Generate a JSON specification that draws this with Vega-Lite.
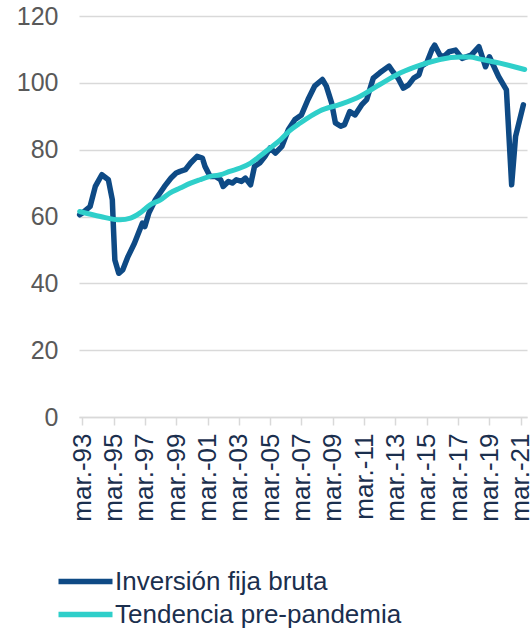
{
  "$schema": "https://vega.github.io/schema/vega-lite/v6.json",
  "width": 448,
  "height": 401,
  "autosize": {"type": "none"},
  "padding": {"left": 79, "top": 16, "right": 5, "bottom": 212},
  "background": "white",
  "config": {
    "view": {"stroke": null},
    "font": "Liberation Sans"
  },
  "datasets": {
    "ifb": [
      {"fecha": "1993-01-01", "serie": "Inversión fija bruta", "valor": 60.5},
      {"fecha": "1993-03-01", "serie": "Inversión fija bruta", "valor": 61},
      {"fecha": "1993-09-01", "serie": "Inversión fija bruta", "valor": 63},
      {"fecha": "1994-01-01", "serie": "Inversión fija bruta", "valor": 69},
      {"fecha": "1994-06-01", "serie": "Inversión fija bruta", "valor": 72.5},
      {"fecha": "1994-11-01", "serie": "Inversión fija bruta", "valor": 71},
      {"fecha": "1995-02-01", "serie": "Inversión fija bruta", "valor": 65},
      {"fecha": "1995-03-01", "serie": "Inversión fija bruta", "valor": 56},
      {"fecha": "1995-04-01", "serie": "Inversión fija bruta", "valor": 47},
      {"fecha": "1995-07-01", "serie": "Inversión fija bruta", "valor": 43},
      {"fecha": "1995-10-01", "serie": "Inversión fija bruta", "valor": 44},
      {"fecha": "1996-02-01", "serie": "Inversión fija bruta", "valor": 48},
      {"fecha": "1996-07-01", "serie": "Inversión fija bruta", "valor": 52},
      {"fecha": "1997-01-01", "serie": "Inversión fija bruta", "valor": 58},
      {"fecha": "1997-03-01", "serie": "Inversión fija bruta", "valor": 57},
      {"fecha": "1997-06-01", "serie": "Inversión fija bruta", "valor": 61},
      {"fecha": "1997-11-01", "serie": "Inversión fija bruta", "valor": 65},
      {"fecha": "1998-06-01", "serie": "Inversión fija bruta", "valor": 69},
      {"fecha": "1998-11-01", "serie": "Inversión fija bruta", "valor": 71.5},
      {"fecha": "1999-03-01", "serie": "Inversión fija bruta", "valor": 73},
      {"fecha": "1999-06-01", "serie": "Inversión fija bruta", "valor": 73.5},
      {"fecha": "1999-10-01", "serie": "Inversión fija bruta", "valor": 74},
      {"fecha": "2000-02-01", "serie": "Inversión fija bruta", "valor": 76},
      {"fecha": "2000-07-01", "serie": "Inversión fija bruta", "valor": 78},
      {"fecha": "2000-11-01", "serie": "Inversión fija bruta", "valor": 77.5},
      {"fecha": "2001-01-01", "serie": "Inversión fija bruta", "valor": 75},
      {"fecha": "2001-05-01", "serie": "Inversión fija bruta", "valor": 72},
      {"fecha": "2001-09-01", "serie": "Inversión fija bruta", "valor": 72},
      {"fecha": "2002-01-01", "serie": "Inversión fija bruta", "valor": 71},
      {"fecha": "2002-03-01", "serie": "Inversión fija bruta", "valor": 69},
      {"fecha": "2002-07-01", "serie": "Inversión fija bruta", "valor": 70.5},
      {"fecha": "2002-10-01", "serie": "Inversión fija bruta", "valor": 70},
      {"fecha": "2003-01-01", "serie": "Inversión fija bruta", "valor": 71},
      {"fecha": "2003-05-01", "serie": "Inversión fija bruta", "valor": 70.5},
      {"fecha": "2003-08-01", "serie": "Inversión fija bruta", "valor": 71.5},
      {"fecha": "2003-12-01", "serie": "Inversión fija bruta", "valor": 69.5},
      {"fecha": "2004-03-01", "serie": "Inversión fija bruta", "valor": 75},
      {"fecha": "2004-07-01", "serie": "Inversión fija bruta", "valor": 76},
      {"fecha": "2004-11-01", "serie": "Inversión fija bruta", "valor": 78},
      {"fecha": "2005-03-01", "serie": "Inversión fija bruta", "valor": 80.5},
      {"fecha": "2005-07-01", "serie": "Inversión fija bruta", "valor": 79},
      {"fecha": "2005-12-01", "serie": "Inversión fija bruta", "valor": 81},
      {"fecha": "2006-05-01", "serie": "Inversión fija bruta", "valor": 86},
      {"fecha": "2006-10-01", "serie": "Inversión fija bruta", "valor": 89},
      {"fecha": "2007-03-01", "serie": "Inversión fija bruta", "valor": 90.4},
      {"fecha": "2007-08-01", "serie": "Inversión fija bruta", "valor": 95},
      {"fecha": "2008-01-01", "serie": "Inversión fija bruta", "valor": 99},
      {"fecha": "2008-07-01", "serie": "Inversión fija bruta", "valor": 101},
      {"fecha": "2008-10-01", "serie": "Inversión fija bruta", "valor": 99},
      {"fecha": "2009-02-01", "serie": "Inversión fija bruta", "valor": 94},
      {"fecha": "2009-05-01", "serie": "Inversión fija bruta", "valor": 88},
      {"fecha": "2009-09-01", "serie": "Inversión fija bruta", "valor": 87},
      {"fecha": "2009-12-01", "serie": "Inversión fija bruta", "valor": 87.5},
      {"fecha": "2010-04-01", "serie": "Inversión fija bruta", "valor": 91.4},
      {"fecha": "2010-08-01", "serie": "Inversión fija bruta", "valor": 90.4},
      {"fecha": "2011-01-01", "serie": "Inversión fija bruta", "valor": 93.4},
      {"fecha": "2011-05-01", "serie": "Inversión fija bruta", "valor": 95},
      {"fecha": "2011-10-01", "serie": "Inversión fija bruta", "valor": 101.4},
      {"fecha": "2012-03-01", "serie": "Inversión fija bruta", "valor": 103},
      {"fecha": "2012-10-01", "serie": "Inversión fija bruta", "valor": 105},
      {"fecha": "2013-01-01", "serie": "Inversión fija bruta", "valor": 103.3},
      {"fecha": "2013-05-01", "serie": "Inversión fija bruta", "valor": 101.4},
      {"fecha": "2013-09-01", "serie": "Inversión fija bruta", "valor": 98.4},
      {"fecha": "2014-01-01", "serie": "Inversión fija bruta", "valor": 99.4},
      {"fecha": "2014-05-01", "serie": "Inversión fija bruta", "valor": 101.4},
      {"fecha": "2014-09-01", "serie": "Inversión fija bruta", "valor": 102.4},
      {"fecha": "2014-11-01", "serie": "Inversión fija bruta", "valor": 105},
      {"fecha": "2015-03-01", "serie": "Inversión fija bruta", "valor": 106},
      {"fecha": "2015-07-01", "serie": "Inversión fija bruta", "valor": 110},
      {"fecha": "2015-09-01", "serie": "Inversión fija bruta", "valor": 111.3},
      {"fecha": "2016-01-01", "serie": "Inversión fija bruta", "valor": 108.3},
      {"fecha": "2016-04-01", "serie": "Inversión fija bruta", "valor": 107.8},
      {"fecha": "2016-08-01", "serie": "Inversión fija bruta", "valor": 109.3},
      {"fecha": "2017-01-01", "serie": "Inversión fija bruta", "valor": 109.8},
      {"fecha": "2017-06-01", "serie": "Inversión fija bruta", "valor": 107.3},
      {"fecha": "2018-01-01", "serie": "Inversión fija bruta", "valor": 108.3},
      {"fecha": "2018-07-01", "serie": "Inversión fija bruta", "valor": 110.8},
      {"fecha": "2018-12-01", "serie": "Inversión fija bruta", "valor": 104.8},
      {"fecha": "2019-03-01", "serie": "Inversión fija bruta", "valor": 107.8},
      {"fecha": "2019-10-01", "serie": "Inversión fija bruta", "valor": 101.9},
      {"fecha": "2020-04-01", "serie": "Inversión fija bruta", "valor": 97.9},
      {"fecha": "2020-08-01", "serie": "Inversión fija bruta", "valor": 69.5},
      {"fecha": "2020-11-01", "serie": "Inversión fija bruta", "valor": 84},
      {"fecha": "2021-05-01", "serie": "Inversión fija bruta", "valor": 93.4}
    ],
    "tendencia": [
      {"fecha": "1993-01-01", "serie": "Tendencia pre-pandemia", "valor": 61.5},
      {"fecha": "1994-05-01", "serie": "Tendencia pre-pandemia", "valor": 60},
      {"fecha": "1995-08-01", "serie": "Tendencia pre-pandemia", "valor": 59},
      {"fecha": "1996-04-01", "serie": "Tendencia pre-pandemia", "valor": 59.5},
      {"fecha": "1996-11-01", "serie": "Tendencia pre-pandemia", "valor": 61},
      {"fecha": "1997-07-01", "serie": "Tendencia pre-pandemia", "valor": 63.5},
      {"fecha": "1998-03-01", "serie": "Tendencia pre-pandemia", "valor": 65},
      {"fecha": "1998-10-01", "serie": "Tendencia pre-pandemia", "valor": 67},
      {"fecha": "1999-06-01", "serie": "Tendencia pre-pandemia", "valor": 68.5},
      {"fecha": "2000-02-01", "serie": "Tendencia pre-pandemia", "valor": 70},
      {"fecha": "2000-09-01", "serie": "Tendencia pre-pandemia", "valor": 71},
      {"fecha": "2001-05-01", "serie": "Tendencia pre-pandemia", "valor": 72},
      {"fecha": "2002-01-01", "serie": "Tendencia pre-pandemia", "valor": 72.5},
      {"fecha": "2002-08-01", "serie": "Tendencia pre-pandemia", "valor": 73.5},
      {"fecha": "2003-04-01", "serie": "Tendencia pre-pandemia", "valor": 74.5},
      {"fecha": "2003-12-01", "serie": "Tendencia pre-pandemia", "valor": 76},
      {"fecha": "2004-07-01", "serie": "Tendencia pre-pandemia", "valor": 78},
      {"fecha": "2005-03-01", "serie": "Tendencia pre-pandemia", "valor": 80.5},
      {"fecha": "2005-11-01", "serie": "Tendencia pre-pandemia", "valor": 83},
      {"fecha": "2006-06-01", "serie": "Tendencia pre-pandemia", "valor": 85.7},
      {"fecha": "2007-02-01", "serie": "Tendencia pre-pandemia", "valor": 88},
      {"fecha": "2008-05-01", "serie": "Tendencia pre-pandemia", "valor": 91.6},
      {"fecha": "2009-09-01", "serie": "Tendencia pre-pandemia", "valor": 93.6},
      {"fecha": "2010-12-01", "serie": "Tendencia pre-pandemia", "valor": 96},
      {"fecha": "2012-03-01", "serie": "Tendencia pre-pandemia", "valor": 99.5},
      {"fecha": "2013-07-01", "serie": "Tendencia pre-pandemia", "valor": 103},
      {"fecha": "2014-10-01", "serie": "Tendencia pre-pandemia", "valor": 105.3},
      {"fecha": "2016-01-01", "serie": "Tendencia pre-pandemia", "valor": 107},
      {"fecha": "2017-05-01", "serie": "Tendencia pre-pandemia", "valor": 107.7},
      {"fecha": "2017-12-01", "serie": "Tendencia pre-pandemia", "valor": 107.7},
      {"fecha": "2018-08-01", "serie": "Tendencia pre-pandemia", "valor": 107.1},
      {"fecha": "2019-11-01", "serie": "Tendencia pre-pandemia", "valor": 105.9},
      {"fecha": "2021-06-01", "serie": "Tendencia pre-pandemia", "valor": 104}
    ]
  },
  "encoding": {
    "x": {
      "field": "fecha",
      "type": "temporal",
      "scale": {
        "type": "utc",
        "domain": [
          {"year": 1992, "month": 12, "date": 16, "utc": true},
          {"year": 2021, "month": 7, "date": 25, "utc": true}
        ]
      },
      "axis": {
        "title": null,
        "values": [
          {"year": 1993, "month": 3, "date": 1, "utc": true},
          {"year": 1995, "month": 3, "date": 1, "utc": true},
          {"year": 1997, "month": 3, "date": 1, "utc": true},
          {"year": 1999, "month": 3, "date": 1, "utc": true},
          {"year": 2001, "month": 3, "date": 1, "utc": true},
          {"year": 2003, "month": 3, "date": 1, "utc": true},
          {"year": 2005, "month": 3, "date": 1, "utc": true},
          {"year": 2007, "month": 3, "date": 1, "utc": true},
          {"year": 2009, "month": 3, "date": 1, "utc": true},
          {"year": 2011, "month": 3, "date": 1, "utc": true},
          {"year": 2013, "month": 3, "date": 1, "utc": true},
          {"year": 2015, "month": 3, "date": 1, "utc": true},
          {"year": 2017, "month": 3, "date": 1, "utc": true},
          {"year": 2019, "month": 3, "date": 1, "utc": true},
          {"year": 2021, "month": 3, "date": 1, "utc": true}
        ],
        "labelExpr": "'mar.-' + utcFormat(datum.value, '%y')",
        "labelAngle": -90,
        "labelAlign": "right",
        "labelBaseline": "middle",
        "labelFontSize": 26,
        "labelColor": "#1b2f4e",
        "labelPadding": 8,
        "labelOverlap": false,
        "labelBound": false,
        "labelFlush": false,
        "grid": false,
        "domainColor": "#d9d9d9",
        "domainWidth": 1.5,
        "tickColor": "#d9d9d9",
        "tickWidth": 1.5,
        "tickSize": 8
      }
    },
    "y": {
      "field": "valor",
      "type": "quantitative",
      "scale": {"domain": [0, 120], "nice": false, "zero": true},
      "axis": {
        "title": null,
        "values": [0, 20, 40, 60, 80, 100, 120],
        "domain": false,
        "ticks": false,
        "grid": true,
        "gridColor": "#d9d9d9",
        "gridWidth": 1.5,
        "labelFontSize": 25,
        "labelColor": "#595959",
        "labelPadding": 21
      }
    },
    "color": {
      "field": "serie",
      "type": "nominal",
      "scale": {
        "domain": ["Inversión fija bruta", "Tendencia pre-pandemia"],
        "range": ["#0e4a85", "#2fcfca"]
      },
      "legend": {
        "title": null,
        "orient": "none",
        "legendX": -10,
        "legendY": 549,
        "direction": "vertical",
        "symbolType": "M-2,0H2",
        "symbolSize": 729,
        "symbolStrokeWidth": 5.5,
        "labelFontSize": 26,
        "labelColor": "#1b2f4e",
        "labelOffset": 13,
        "rowPadding": 3,
        "labelLimit": 400
      }
    }
  },
  "layer": [
    {
      "data": {"name": "ifb"},
      "mark": {"type": "line", "strokeWidth": 5.5, "strokeJoin": "round", "strokeCap": "round"}
    },
    {
      "data": {"name": "tendencia"},
      "mark": {"type": "line", "strokeWidth": 5, "interpolate": "monotone", "strokeCap": "round"}
    }
  ]
}
